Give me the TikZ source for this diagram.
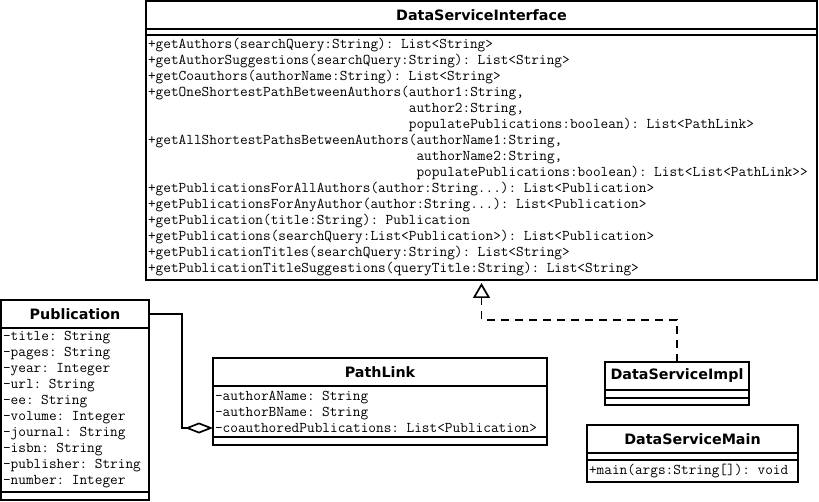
\documentclass[tikz,border=0pt]{standalone}
\usepackage{fontspec}
\newfontfamily\classfont{DejaVu Sans}
\usetikzlibrary{positioning, calc, arrows.meta}

\begin{document}
\begin{tikzpicture}
	[x=1pt, y=-1pt, line width=1.7pt,
	classname/.style={rectangle, draw, outer sep=0pt, inner sep=0pt, minimum height=28pt, font=\classfont\bfseries\fontsize{14.3}{16}\selectfont},
	members/.style={rectangle, draw, outer sep=0pt, inner xsep=2pt, inner ysep=0pt, align=left, font=\ttfamily\fontsize{14.9}{16}\selectfont},
	aggregation/.style={-{Diamond[open, length=28pt, width=11pt]}},
	realization/.style={dash pattern=on 8pt off 6pt, -{Triangle[open, length=15pt, width=17pt]}, shorten >=3pt}
	]
	\useasboundingbox (0,0) rectangle (819,502);

	% Interface
	\node[classname, minimum width=671pt, anchor=north west] (dsi) at (146,1) {DataServiceInterface};
	\node[members, text width=667pt, minimum height=6pt, below=0pt of dsi] (dsiattr) {};
	\node[members, text width=667pt, minimum height=245pt, below=0pt of dsiattr] (dsiops) {+getAuthors(searchQuery:String): List<String>\\
		+getAuthorSuggestions(searchQuery:String): List<String>\\
		+getCoauthors(authorName:String): List<String>\\
		+getOneShortestPathBetweenAuthors(author1:String,\\
		\hphantom{+getOneShortestPathBetweenAuthors(}author2:String,\\
		\hphantom{+getOneShortestPathBetweenAuthors(}populatePublications:boolean): List<PathLink>\\
		+getAllShortestPathsBetweenAuthors(authorName1:String,\\
		\hphantom{+getAllShortestPathsBetweenAuthors(}authorName2:String,\\
		\hphantom{+getAllShortestPathsBetweenAuthors(}populatePublications:boolean): List<List<PathLink>>\\
		+getPublicationsForAllAuthors(author:String...): List<Publication>\\
		+getPublicationsForAnyAuthor(author:String...): List<Publication>\\
		+getPublication(title:String): Publication\\
		+getPublications(searchQuery:List<Publication>): List<Publication>\\
		+getPublicationTitles(searchQuery:String): List<String>\\
		+getPublicationTitleSuggestions(queryTitle:String): List<String>};

	% Publication
	\node[classname, minimum width=148pt, anchor=north west] (pub) at (1,300) {Publication};
	\node[members, text width=144pt, minimum height=164pt, below=0pt of pub] (pubattr) {-title: String\\
		-pages: String\\
		-year: Integer\\
		-url: String\\
		-ee: String\\
		-volume: Integer\\
		-journal: String\\
		-isbn: String\\
		-publisher: String\\
		-number: Integer};
	\node[members, text width=144pt, minimum height=8pt, below=0pt of pubattr] (pubops) {};

	% PathLink
	\node[classname, minimum width=334pt, anchor=north west] (plink) at (213,358) {PathLink};
	\node[members, text width=330pt, minimum height=51pt, below=0pt of plink] (plinkattr) {-authorAName: String\\
		-authorBName: String\\
		-coauthoredPublications: List<Publication>};
	\node[members, text width=330pt, minimum height=8pt, below=0pt of plinkattr] (plinkops) {};

	% Implementation
	\node[classname, minimum width=144pt, anchor=north west] (impl) at (605,362) {DataServiceImpl};
	\node[members, text width=140pt, minimum height=8pt, below=0pt of impl] (implattr) {};
	\node[members, text width=140pt, minimum height=7pt, below=0pt of implattr] (implops) {};

	% Main
	\node[classname, minimum width=211pt, anchor=north west] (main) at (587,425) {DataServiceMain};
	\node[members, text width=207pt, minimum height=7pt, below=0pt of main] (mainattr) {};
	\node[members, text width=207pt, minimum height=22pt, below=0pt of mainattr] (mainops) {+main(args:String[]): void};

	% Relations
	\coordinate (plagg) at ($(plinkattr.south west)+(0,9pt)$);
	\draw[aggregation] (pub.east) -| ($(plagg)+(-31pt,0)$) -- (plagg);
	\coordinate (bend) at ($(dsiops.south)+(0,-40pt)$);
	\draw[realization] (impl.north) |- (bend) -- (dsiops.south);
\end{tikzpicture}
\end{document}
